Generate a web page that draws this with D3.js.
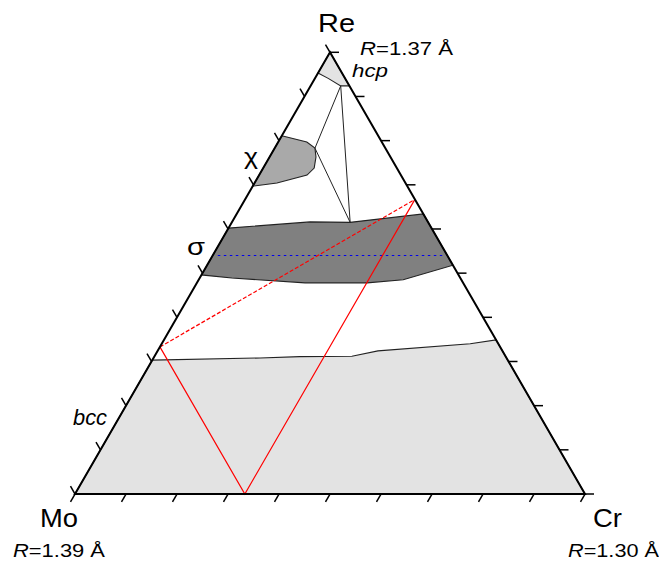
<!DOCTYPE html>
<html>
<head>
<meta charset="utf-8">
<script src="https://cdn.jsdelivr.net/npm/d3@7"></script>
<style>
body { margin: 0; background: #fff; }
svg { display: block; font-family: "Liberation Sans", Arial, sans-serif; }
</style>
</head>
<body>
<svg id="chart" width="659" height="561"></svg>
<script>
// compositions in at.% as [Re, Cr]; Mo is what is left
var bcc = [[0, 0], [0, 100], [34.9, 65.1], [34.0, 60.5], [32.4, 43.2], [31.2, 38.7], [31.1, 28.5], [30.8, 20.9], [30.3, 0]];
var sigma = [[60.2, 0], [61.6, 15.3], [61.5, 23.2], [63.4, 36.6], [51.8, 48.2], [48.5, 40.1], [47.8, 33.4], [47.8, 21.2], [48.9, 6.3], [49.6, 0]];
var chi = [[81.1, 0], [79.7, 5.6], [78.3, 7.9], [76.3, 9.1], [73.8, 10.0], [72.2, 9.4], [70.4, 4.4], [69.7, 0]];
var hcp = [[100, 0], [95.3, 0], [94.1, 2.6], [92.4, 5.9], [92.4, 7.6]];
var tieTriangle = [[92.4, 5.9], [78.3, 7.9], [61.5, 23.2]];
var sigmaMid = [[54, 1], [54, 45]];
var redSolid = [[33.3, 0], [0, 33.3], [66.7, 33.3]];
var redDashed = [[33.3, 0], [66.7, 33.3]];
var tickValues = d3.range(0, 101, 10);

var svg = d3.select('#chart');

var x = d3.scaleLinear().domain([0, 100]).range([75, 585]),
    y = d3.scaleLinear().domain([0, 100]).range([494, 52.3]);

// ternary -> screen
function px(d) { return x(d[1] + d[0] / 2); }
function py(d) { return y(d[0]); }

var line = d3.line().x(px).y(py);

function region(pts, fill) {
    svg.append('path')
        .attr('d', line(pts) + 'Z')
        .attr('fill', fill)
        .attr('stroke', '#222')
        .attr('stroke-width', 1.1);
}

region(bcc, '#e3e3e3');
region(sigma, '#808080');
region(chi, '#a9a9a9');
region(hcp, '#e3e3e3');

svg.append('path')
    .attr('d', line(sigmaMid))
    .attr('fill', 'none')
    .attr('stroke', '#0000ee')
    .attr('stroke-width', 1.2)
    .attr('stroke-dasharray', '2.5,3.5');

svg.append('path')
    .attr('d', line(tieTriangle) + 'Z')
    .attr('fill', 'none')
    .attr('stroke', '#222')
    .attr('stroke-width', 1);

svg.append('path')
    .attr('d', line(redDashed))
    .attr('fill', 'none')
    .attr('stroke', '#ff0000')
    .attr('stroke-width', 1.2)
    .attr('stroke-dasharray', '4,2');

svg.append('path')
    .attr('d', line(redSolid))
    .attr('fill', 'none')
    .attr('stroke', '#ff0000')
    .attr('stroke-width', 1.2);

// triangle frame
svg.append('path')
    .attr('d', line([[0, 0], [0, 100], [100, 0]]) + 'Z')
    .attr('fill', 'none')
    .attr('stroke', '#000')
    .attr('stroke-width', 2)
    .attr('stroke-linejoin', 'miter');

// ticks: each side points its own way
var len = 9;
var sides = [
    { at: function (v) { return [0, v]; }, dx: -0.5, dy: 0.866 },      // Mo-Cr
    { at: function (v) { return [v, 100 - v]; }, dx: 1, dy: 0 },      // Cr-Re
    { at: function (v) { return [v, 0]; }, dx: -0.5, dy: -0.866 }     // Re-Mo
];
sides.forEach(function (s) {
    svg.append('g').selectAll('line')
        .data(tickValues)
        .enter()
        .append('line')
        .attr('x1', function (v) { return px(s.at(v)); })
        .attr('y1', function (v) { return py(s.at(v)); })
        .attr('x2', function (v) { return px(s.at(v)) + s.dx * len; })
        .attr('y2', function (v) { return py(s.at(v)) + s.dy * len; })
        .attr('stroke', '#000')
        .attr('stroke-width', 1.5);
});

// labels
function label(tx, ty, size, width, parts) {
    var t = svg.append('text')
        .attr('x', tx)
        .attr('y', ty)
        .attr('font-size', size)
        .attr('fill', '#000');
    if (width) t.attr('textLength', width).attr('lengthAdjust', 'spacingAndGlyphs');
    parts.forEach(function (p) {
        t.append('tspan')
            .attr('font-style', p[1] ? 'italic' : 'normal')
            .text(p[0]);
    });
}

label(318, 32, 26, 37, [['Re']]);
label(360, 55, 19, 93, [['R', 1], ['=1.37 Å']]);
label(352, 77, 19, 36, [['hcp', 1]]);
label(40, 527, 26, 38, [['Mo']]);
label(13, 557, 19, 92, [['R', 1], ['=1.39 Å']]);
label(593, 527, 26, 29, [['Cr']]);
label(568, 557, 19, 91, [['R', 1], ['=1.30 Å']]);
label(73, 425, 22, 34, [['bcc', 1]]);
label(244, 164, 22, 14, [['χ']]);
label(187, 255, 24, 18, [['σ']]);
</script>
</body>
</html>
